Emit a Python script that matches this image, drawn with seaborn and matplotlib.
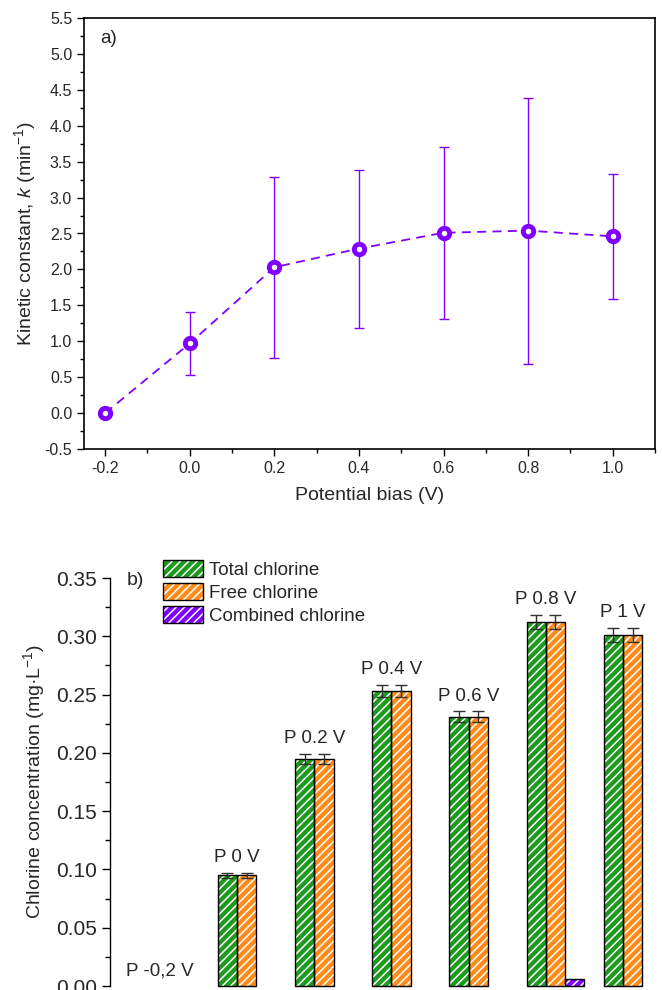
import numpy as np
import pandas as pd
import matplotlib
matplotlib.use("Agg")
import matplotlib.pyplot as plt
import seaborn as sns
from matplotlib.patches import Patch, Rectangle
from matplotlib.legend_handler import HandlerTuple
from matplotlib.ticker import MultipleLocator, FuncFormatter

# ---------------- data ----------------
bias = [-0.2, 0.0, 0.2, 0.4, 0.6, 0.8, 1.0]
k_mean = [0.00, 0.97, 2.03, 2.29, 2.51, 2.54, 2.46]
k_err = [np.nan, 0.44, 1.26, 1.10, 1.20, 1.85, 0.87]

groups = ["P -0,2 V", "P 0 V", "P 0.2 V", "P 0.4 V", "P 0.6 V", "P 0.8 V", "P 1 V"]
series = ["Total chlorine", "Free chlorine", "Combined chlorine"]
total_cl = [0.0, 0.095, 0.195, 0.253, 0.231, 0.312, 0.301]
total_err = [0.0, 0.002, 0.0043, 0.0055, 0.0045, 0.006, 0.006]
free_cl = [0.0, 0.095, 0.195, 0.253, 0.231, 0.312, 0.301]
free_err = [0.0, 0.002, 0.0043, 0.0055, 0.0045, 0.006, 0.006]
combined_cl = [0.0, 0.0, 0.0, 0.0, 0.0, 0.006, 0.0]
combined_err = [0.0, 0.0, 0.0, 0.0, 0.0, 0.0, 0.0]

purple = "#8000FF"
colors = ["#1E9A1E", "#FF8C1A", "#8000FF"]

# ---------------- style ----------------
sns.set_theme(style="ticks")
plt.rcParams['font.family'] = ['Liberation Sans', 'DejaVu Sans']
plt.rcParams['axes.unicode_minus'] = False
plt.rcParams['hatch.linewidth'] = 1.1
plt.rcParams['mathtext.fontset'] = 'custom'
plt.rcParams['mathtext.rm'] = 'Liberation Sans'
plt.rcParams['mathtext.it'] = 'Liberation Sans:italic'
plt.rcParams['mathtext.bf'] = 'Liberation Sans:bold'

fig = plt.figure(figsize=(6.62, 9.9), dpi=100)

# ---------------- panel a ----------------
ax1 = fig.add_axes([84/662, 1-449/990, (655-84)/662, (449-18)/990])
df_k = pd.DataFrame({'bias': bias, 'k': k_mean})
ax1.errorbar(bias, k_mean, yerr=k_err, fmt='none', ecolor=purple,
             elinewidth=1.0, capsize=3.5, capthick=1.0, zorder=2)
sns.lineplot(data=df_k, x='bias', y='k', ax=ax1, color=purple,
             linestyle=(0, (5, 3.5)), linewidth=1.3, marker='o',
             markersize=7.5, markerfacecolor='white', markeredgecolor=purple,
             markeredgewidth=3.5, zorder=3)
ax1.set_xlim(-0.25, 1.1)
ax1.set_ylim(-0.5, 5.5)
ax1.xaxis.set_major_locator(MultipleLocator(0.2))
ax1.xaxis.set_minor_locator(MultipleLocator(0.1))
ax1.yaxis.set_major_locator(MultipleLocator(0.5))
ax1.yaxis.set_minor_locator(MultipleLocator(0.25))
fmt1 = FuncFormatter(lambda v, p: f"{round(v, 1) + 0.0:.1f}")
ax1.xaxis.set_major_formatter(fmt1)
ax1.yaxis.set_major_formatter(fmt1)
ax1.tick_params(which='both', direction='out', top=False, right=False,
                labelsize=11.5, width=1.0, color='black')
ax1.tick_params(which='major', length=5)
ax1.tick_params(which='minor', length=3)
for s in ax1.spines.values():
    s.set_linewidth(1.2)
    s.set_color('black')
ax1.set_xlabel("Potential bias (V)", fontsize=14, labelpad=8)
ax1.set_ylabel("Kinetic constant, $k$ (min$^{-1}$)", fontsize=14, labelpad=5)
ax1.text(0.028, 0.953, "a)", transform=ax1.transAxes, fontsize=13.5, va='center')

# ---------------- panel b ----------------
ax2 = fig.add_axes([110/662, 1-986/990, (662-110)/662, (986-578)/990])
rows = []
all_err = []
for s, vals, errs in zip(series, [total_cl, free_cl, combined_cl],
                         [total_err, free_err, combined_err]):
    for g, v, e in zip(groups, vals, errs):
        rows.append({'group': g, 'value': v, 'series': s})
        all_err.append(e)
df_b = pd.DataFrame(rows)
sns.barplot(data=df_b, x='group', y='value', hue='series', order=groups,
            hue_order=series, palette=colors, width=0.75, errorbar=None,
            legend=False, saturation=1, ax=ax2)

bars = list(ax2.patches)
for p, e in zip(bars, all_err):
    p.set_hatch('////')
    p.set_edgecolor('white')
    p.set_linewidth(0)
    p.set_clip_on(False)
    h = p.get_height()
    if h > 0:
        ax2.add_patch(Rectangle(p.get_xy(), p.get_width(), h, fill=False,
                                ec='black', lw=1.0, zorder=p.get_zorder() + 0.1,
                                clip_on=False))
    if e > 0:
        ax2.errorbar(p.get_x() + p.get_width()/2, h, yerr=e, fmt='none',
                     ecolor='#303030', elinewidth=1.0, capsize=4, capthick=1.0,
                     zorder=4)

n = len(groups)
for i, g in enumerate(groups):
    green = bars[i]
    top = max(total_cl[i] + total_err[i], free_cl[i] + free_err[i])
    xb = green.get_x() + green.get_width()
    ax2.annotate(g, (xb, top), xytext=(0, 5), textcoords='offset points',
                 ha='center', va='bottom', fontsize=13.5)

ax2.set_xlim(-0.77, 6.38)
ax2.set_ylim(0, 0.35)
ax2.yaxis.set_major_locator(MultipleLocator(0.05))
ax2.yaxis.set_minor_locator(MultipleLocator(0.025))
ax2.yaxis.set_major_formatter(FuncFormatter(lambda v, p: f"{round(v, 2) + 0.0:.2f}"))
ax2.tick_params(axis='y', which='both', direction='out', labelsize=15,
                width=1.0, color='black')
ax2.tick_params(axis='y', which='major', length=6)
ax2.tick_params(axis='y', which='minor', length=3.5)
ax2.tick_params(axis='x', bottom=False, labelbottom=False)
for side in ['top', 'right', 'bottom']:
    ax2.spines[side].set_visible(False)
ax2.spines['left'].set_linewidth(1.0)
ax2.spines['left'].set_color('black')
ax2.set_xlabel("")
ax2.set_ylabel("Chlorine concentration (mg·L$^{-1}$)", fontsize=14, labelpad=6)
ax2.text(0.031, 0.995, "b)", transform=ax2.transAxes, fontsize=14, va='center')

handles = []
for c in colors:
    handles.append((Patch(facecolor=c, edgecolor='white', hatch='////', lw=0),
                    Patch(facecolor='none', edgecolor='black', lw=1.0)))
fig.legend(handles, series, loc='upper left',
           bbox_to_anchor=(163/662, 1-560/990), frameon=False,
           handler_map={tuple: HandlerTuple(ndivide=1)},
           handlelength=2.15, handleheight=1.05, handletextpad=0.3,
           labelspacing=0.2, borderpad=0, borderaxespad=0, fontsize=13.5)

fig.savefig("out.png", dpi=100)
